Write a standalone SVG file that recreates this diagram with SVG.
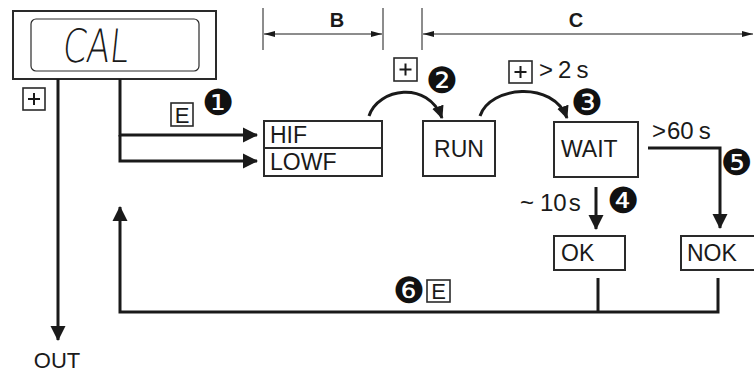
<svg xmlns="http://www.w3.org/2000/svg" width="754" height="372" viewBox="0 0 754 372">
<style>
.t{font-family:"Liberation Sans",Arial,sans-serif;fill:#1a1a1a}
.box{fill:#fff;stroke:#2a2a2a;stroke-width:2}
.key{fill:#fff;stroke:#2a2a2a;stroke-width:1.6}
.ln{fill:none;stroke:#1a1a1a;stroke-width:3}
.dim{fill:none;stroke:#1a1a1a;stroke-width:1}
.num{font-family:"DejaVu Sans",sans-serif;fill:#111;font-size:36px}
</style>
<defs>
<marker id="ah" markerUnits="userSpaceOnUse" markerWidth="16" markerHeight="16" viewBox="0 0 16 16" refX="14" refY="8" orient="auto">
<path d="M0,0.5 L15,8 L0,15.5 Z" fill="#1a1a1a"/>
</marker>
<marker id="ahs" markerUnits="userSpaceOnUse" markerWidth="14" markerHeight="14" viewBox="0 0 14 14" refX="12" refY="7" orient="auto">
<path d="M0,1 L13,7 L0,13 Z" fill="#1a1a1a"/>
</marker>
<marker id="dh" markerUnits="userSpaceOnUse" markerWidth="12" markerHeight="8" viewBox="0 0 12 8" refX="11" refY="4" orient="auto">
<path d="M0,1 L11,4 L0,7 Z" fill="#1a1a1a"/>
</marker>
</defs>

<g id="display">
<rect x="13" y="11" width="203" height="68" fill="#fff" stroke="#2a2a2a" stroke-width="2"/>
<rect x="31" y="19" width="168" height="52" rx="5" fill="#fff" stroke="#2a2a2a" stroke-width="1.2"/>
<text x="62" y="62" font-size="46" textLength="66" lengthAdjust="spacingAndGlyphs" transform="skewX(-6) translate(6,0)" style="font-family:'DejaVu Sans',sans-serif;font-weight:200;fill:#1a1a1a">CAL</text>
</g>

<g id="dimensions">
<line class="dim" x1="263" y1="8" x2="263" y2="50"/>
<line class="dim" x1="383" y1="8" x2="383" y2="50"/>
<line class="dim" x1="422" y1="8" x2="422" y2="50"/>
<line class="dim" x1="323" y1="34" x2="264" y2="34" marker-end="url(#dh)"/>
<line class="dim" x1="323" y1="34" x2="382" y2="34" marker-end="url(#dh)"/>
<line class="dim" x1="590" y1="34" x2="423" y2="34" marker-end="url(#dh)"/>
<line class="dim" x1="590" y1="34" x2="753" y2="34" marker-end="url(#dh)"/>
<text class="t" x="337" y="27" font-size="20" font-weight="bold" text-anchor="middle">B</text>
<text class="t" x="576" y="27" font-size="20" font-weight="bold" text-anchor="middle">C</text>
</g>

<g id="connectors">
<line class="ln" x1="58" y1="79" x2="58" y2="340" marker-end="url(#ah)"/>
<polyline class="ln" points="120,79 120,135 257,135" marker-end="url(#ah)"/>
<polyline class="ln" points="120,135 120,161 257,161" marker-end="url(#ah)"/>
<path class="ln" d="M369,116 C378,88 428,80 442,118" stroke-width="2.6" marker-end="url(#ahs)"/>
<path class="ln" d="M480,116 C490,86 553,80 567,118" stroke-width="2.6" marker-end="url(#ahs)"/>
<line class="ln" x1="596" y1="187" x2="596" y2="229" marker-end="url(#ah)"/>
<polyline class="ln" points="648,148 720,148 720,228" marker-end="url(#ah)"/>
<polyline class="ln" points="598,278 598,312"/>
<polyline class="ln" points="718,278 718,312 120,312 120,207" marker-end="url(#ah)"/>
</g>

<g id="node-hif-lowf">
<rect class="box" x="264" y="121" width="118" height="55"/>
<line x1="264" y1="148" x2="382" y2="148" stroke="#2a2a2a" stroke-width="2"/>
<text class="t" x="270" y="143" font-size="23">HIF</text>
<text class="t" x="270" y="170" font-size="23">LOWF</text>
</g>

<g id="node-run">
<rect class="box" x="423" y="121" width="72" height="55"/>
<text class="t" x="459" y="157" font-size="23" text-anchor="middle">RUN</text>
</g>

<g id="node-wait">
<rect class="box" x="554" y="122" width="84" height="55"/>
<text class="t" x="561" y="157" font-size="23">WAIT</text>
</g>

<g id="node-ok">
<rect class="box" x="554" y="236" width="71" height="34"/>
<text class="t" x="561" y="261" font-size="23">OK</text>
</g>

<g id="node-nok">
<rect class="box" x="681" y="236" width="74" height="34"/>
<text class="t" x="687" y="261" font-size="23">NOK</text>
</g>

<g id="node-out">
<text class="t" x="57" y="368" font-size="22" text-anchor="middle">OUT</text>
</g>

<g id="labels">
<rect class="key" x="23" y="88" width="22" height="22"/>
<path d="M28,99 H40 M34,93 V105" stroke="#1a1a1a" stroke-width="2" fill="none"/>

<rect class="key" x="171" y="103" width="22" height="23"/>
<text class="t" x="182" y="123" font-size="22" text-anchor="middle">E</text>
<text class="num" x="218" y="115" text-anchor="middle">❶</text>

<rect class="key" x="394" y="58" width="23" height="23"/>
<path d="M399.5,69.5 H411.5 M405.5,63.5 V75.5" stroke="#1a1a1a" stroke-width="2" fill="none"/>
<text class="num" x="442" y="93" text-anchor="middle">❷</text>

<rect class="key" x="509" y="61" width="23" height="22"/>
<path d="M514.5,72 H526.5 M520.5,66 V78" stroke="#1a1a1a" stroke-width="2" fill="none"/>
<text class="t" x="539" y="78" font-size="24">&gt;<tspan dx="5">2</tspan><tspan dx="5">s</tspan></text>
<text class="num" x="587" y="115" text-anchor="middle" font-size="34">❸</text>

<text class="t" x="652" y="139" font-size="24">&gt;<tspan dx="1">60</tspan><tspan dx="5">s</tspan></text>
<text class="num" x="737" y="175" text-anchor="middle" font-size="34">❺</text>

<text class="t" x="520" y="211" font-size="24">~<tspan dx="6">10</tspan><tspan dx="2">s</tspan></text>
<text class="num" x="623" y="213" text-anchor="middle">❹</text>

<text class="num" x="409" y="303" text-anchor="middle">❻</text>
<rect class="key" x="427" y="280" width="23" height="22"/>
<text class="t" x="438.5" y="299" font-size="22" text-anchor="middle">E</text>
</g>
</svg>
